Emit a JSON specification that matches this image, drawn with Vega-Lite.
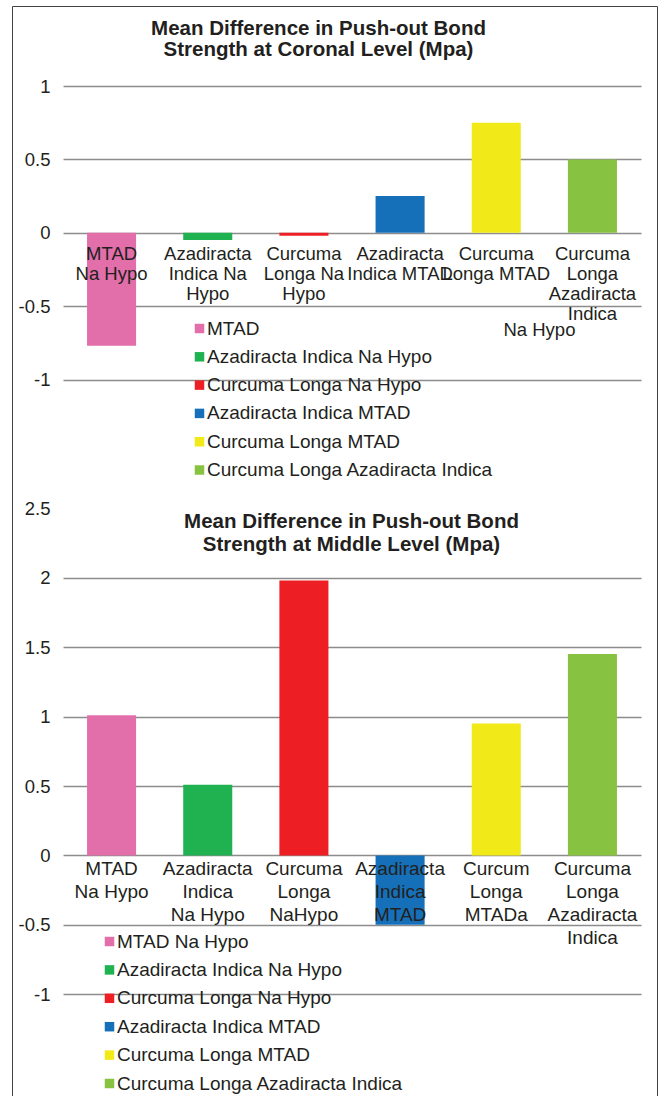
{
  "$schema": "https://vega.github.io/schema/vega-lite/v6.json",
  "width": 645,
  "height": 1090,
  "autosize": {"type": "none"},
  "padding": {"left": 12, "top": 6, "right": 1, "bottom": 0},
  "background": "white",
  "config": {
    "font": "Liberation Sans",
    "view": {"stroke": "#444444", "strokeWidth": 1},
    "text": {"fill": "#231f20", "font": "Liberation Sans"}
  },
  "datasets": {
    "coronal": [
      {"group": "MTAD Na Hypo", "series": "MTAD", "label": "MTAD|Na Hypo", "difference": -0.77},
      {"group": "Azadiracta Indica Na Hypo", "series": "Azadiracta Indica Na Hypo", "label": "Azadiracta|Indica Na|Hypo", "difference": -0.05},
      {"group": "Curcuma Longa Na Hypo", "series": "Curcuma Longa Na Hypo", "label": "Curcuma|Longa Na|Hypo", "difference": -0.02},
      {"group": "Azadiracta Indica MTAD", "series": "Azadiracta Indica MTAD", "label": "Azadiracta|Indica MTAD", "difference": 0.25},
      {"group": "Curcuma Longa MTAD", "series": "Curcuma Longa MTAD", "label": "Curcuma|Longa MTAD", "difference": 0.75},
      {"group": "Curcuma Longa Azadiracta Indica", "series": "Curcuma Longa Azadiracta Indica", "label": "Curcuma|Longa|Azadiracta|Indica", "difference": 0.5}
    ],
    "middle": [
      {"group": "MTAD Na Hypo", "series": "MTAD Na Hypo", "label": "MTAD|Na Hypo", "difference": 1.01},
      {"group": "Azadiracta Indica Na Hypo", "series": "Azadiracta Indica Na Hypo", "label": "Azadiracta|Indica|Na Hypo", "difference": 0.51},
      {"group": "Curcuma Longa Na Hypo", "series": "Curcuma Longa Na Hypo", "label": "Curcuma|Longa|NaHypo", "difference": 1.98},
      {"group": "Azadiracta Indica MTAD", "series": "Azadiracta Indica MTAD", "label": "Azadiracta|Indica|MTAD", "difference": -0.5},
      {"group": "Curcuma Longa MTAD", "series": "Curcuma Longa MTAD", "label": "Curcum|Longa|MTADa", "difference": 0.95},
      {"group": "Curcuma Longa Azadiracta Indica", "series": "Curcuma Longa Azadiracta Indica", "label": "Curcuma|Longa|Azadiracta|Indica", "difference": 1.45}
    ]
  },
  "layer": [
    {
      "layer": [
        {
          "data": {"name": "coronal"},
          "mark": {"type": "bar"},
          "encoding": {
            "x": {"field": "group", "type": "nominal", "sort": null, "axis": null,
                  "scale": {"range": [51, 629], "paddingInner": 0.49, "paddingOuter": 0.25}},
            "y": {"field": "difference", "type": "quantitative",
                  "scale": {"domain": [-1, 1], "range": [373.5, 80], "nice": false},
                  "axis": {"orient": "left", "offset": -40, "values": [-1, -0.5, 0, 0.5, 1], "title": null,
                           "domain": false, "ticks": false, "tickSize": 0, "labelPadding": 2,
                           "labelFont": "Liberation Sans", "labelFontSize": 18.5, "labelColor": "#231f20",
                           "labelExpr": "'' + datum.value", "grid": true, "gridColor": "#8c8c8c", "gridWidth": 1.3}},
            "color": {"field": "series", "type": "nominal",
                      "scale": {"domain": ["MTAD", "Azadiracta Indica Na Hypo", "Curcuma Longa Na Hypo", "Azadiracta Indica MTAD", "Curcuma Longa MTAD", "Curcuma Longa Azadiracta Indica"],
                                "range": ["#e26eaa", "#20b150", "#ee1f24", "#1570b9", "#f2e918", "#87c340"]},
                      "legend": {"orient": "none", "legendX": 178, "legendY": 313, "direction": "vertical", "title": null,
                                 "symbolType": "square", "symbolSize": 90, "symbolStrokeWidth": 0,
                                 "labelFont": "Liberation Sans", "labelFontSize": 19, "labelColor": "#231f20",
                                 "rowPadding": 8.3, "labelOffset": -2, "padding": 0, "labelLimit": 0}}
          }
        },
        {
          "data": {"name": "coronal"},
          "mark": {"type": "text", "align": "center", "baseline": "top", "dy": 12.6, "fontSize": 18.5, "lineHeight": 20, "lineBreak": "|"},
          "encoding": {
            "x": {"field": "group", "type": "nominal", "sort": null},
            "y": {"datum": 0, "type": "quantitative"},
            "text": {"field": "label"}
          }
        },
        {
          "data": {"values": [{"group": "Curcuma Longa Azadiracta Indica", "label": "Na Hypo"}]},
          "mark": {"type": "text", "align": "center", "baseline": "top", "dx": -53, "dy": 88, "fontSize": 18.5},
          "encoding": {
            "x": {"field": "group", "type": "nominal", "sort": null},
            "y": {"datum": 0, "type": "quantitative"},
            "text": {"field": "label"}
          }
        },
        {
          "data": {"values": [{"heading": "Mean Difference in Push-out Bond|Strength at Coronal Level (Mpa)"}]},
          "mark": {"type": "text", "align": "center", "baseline": "top", "dx": -16, "dy": -67.5, "fontSize": 20.5, "fontWeight": "bold", "lineHeight": 21, "lineBreak": "|"},
          "encoding": {
            "y": {"datum": 1, "type": "quantitative"},
            "text": {"field": "heading"}
          }
        }
      ]
    },
    {
      "layer": [
        {
          "data": {"name": "middle"},
          "mark": {"type": "bar"},
          "encoding": {
            "x": {"field": "group", "type": "nominal", "sort": null, "axis": null,
                  "scale": {"range": [51, 629], "paddingInner": 0.49, "paddingOuter": 0.25}},
            "y": {"field": "difference", "type": "quantitative",
                  "scale": {"domain": [-1, 2.5], "range": [988.3, 502.3], "nice": false},
                  "axis": {"orient": "left", "offset": -40, "values": [-1, -0.5, 0, 0.5, 1, 1.5, 2, 2.5], "title": null,
                           "domain": false, "ticks": false, "tickSize": 0, "labelPadding": 2,
                           "labelFont": "Liberation Sans", "labelFontSize": 18.5, "labelColor": "#231f20",
                           "labelExpr": "'' + datum.value", "grid": true, "gridColor": "#8c8c8c", "gridWidth": 1.3,
                           "gridOpacity": {"condition": {"test": "datum.value === 2.5", "value": 0}, "value": 1}}},
            "color": {"field": "series", "type": "nominal",
                      "scale": {"domain": ["MTAD Na Hypo", "Azadiracta Indica Na Hypo", "Curcuma Longa Na Hypo", "Azadiracta Indica MTAD", "Curcuma Longa MTAD", "Curcuma Longa Azadiracta Indica"],
                                "range": ["#e26eaa", "#20b150", "#ee1f24", "#1570b9", "#f2e918", "#87c340"]},
                      "legend": {"orient": "none", "legendX": 88, "legendY": 926, "direction": "vertical", "title": null,
                                 "symbolType": "square", "symbolSize": 90, "symbolStrokeWidth": 0,
                                 "labelFont": "Liberation Sans", "labelFontSize": 19, "labelColor": "#231f20",
                                 "rowPadding": 8.4, "labelOffset": -2, "padding": 0, "labelLimit": 0}}
          }
        },
        {
          "data": {"name": "middle"},
          "mark": {"type": "text", "align": "center", "baseline": "top", "dy": 4.5, "fontSize": 19, "lineHeight": 23, "lineBreak": "|"},
          "encoding": {
            "x": {"field": "group", "type": "nominal", "sort": null},
            "y": {"datum": 0, "type": "quantitative"},
            "text": {"field": "label"}
          }
        },
        {
          "data": {"values": [{"heading": "Mean Difference in Push-out Bond|Strength at Middle Level (Mpa)"}]},
          "mark": {"type": "text", "align": "center", "baseline": "top", "dx": 17, "dy": 4, "fontSize": 20.5, "fontWeight": "bold", "lineHeight": 22.5, "lineBreak": "|"},
          "encoding": {
            "y": {"datum": 2.5, "type": "quantitative"},
            "text": {"field": "heading"}
          }
        }
      ]
    }
  ],
  "resolve": {
    "scale": {"y": "independent", "color": "independent"},
    "axis": {"y": "independent"},
    "legend": {"color": "independent"}
  }
}
